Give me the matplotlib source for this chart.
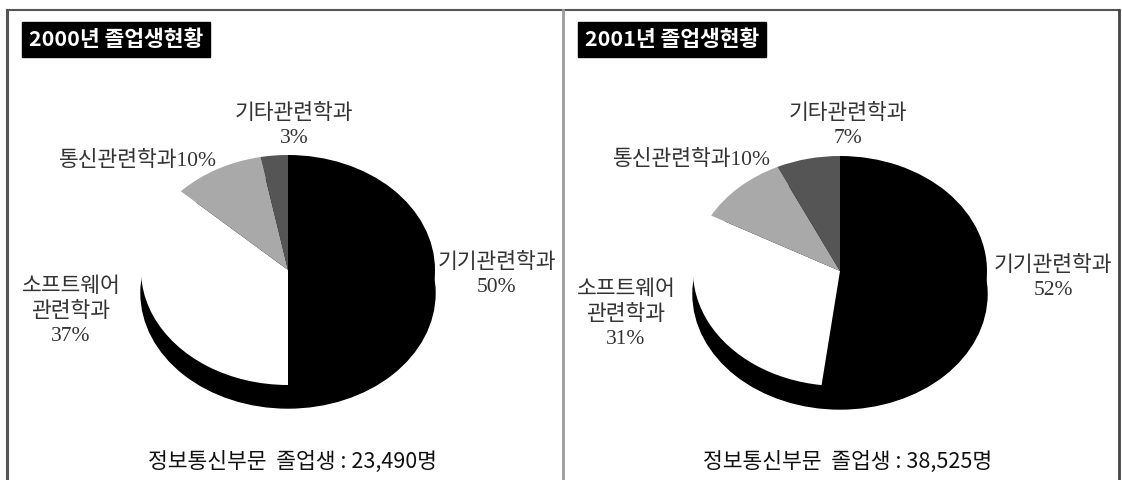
import matplotlib
matplotlib.use("Agg")
import matplotlib.pyplot as plt
from matplotlib.patches import Ellipse, Rectangle
from matplotlib.lines import Line2D

plt.rcParams['font.family'] = ['Noto Sans CJK KR', 'DejaVu Sans']

# ---- data ----
years = ["2000", "2001"]
categories = ["기기관련학과", "소프트웨어 관련학과", "통신관련학과", "기타관련학과"]
share_2000 = [50, 37, 10, 3]
share_2001 = [52, 31, 10, 7]
graduates = ["23,490", "38,525"]

slice_colors = ["#000000", "#ffffff", "#a9a9a9", "#555555"]
label_font = ['Liberation Serif', 'Noto Sans CJK KR']
label_color = "#333333"

W, H = 1122, 480
fig = plt.figure(figsize=(W / 100, H / 100), dpi=100, facecolor="white")
bg = fig.add_axes([0, 0, 1, 1])
bg.set_xlim(0, W)
bg.set_ylim(H, 0)
bg.axis("off")

# ---- frame ----
bg.add_line(Line2D([7, 1119], [10, 10], color="#555555", lw=1.5))
bg.add_line(Line2D([7, 7], [10, H], color="#555555", lw=2.2))
bg.add_line(Line2D([563, 563], [10, H], color="#9a9a9a", lw=2.0))
bg.add_line(Line2D([1119, 1119], [10, H], color="#444444", lw=2.0))


def label_texts(shares):
    return [
        f"{categories[0]}\n{shares[0]}%",
        "소프트웨어\n관련학과\n" + f"{shares[1]}%",
        f"{categories[2]}{shares[2]}%",
        f"{categories[3]}\n{shares[3]}%",
    ]


panels = [
    dict(x0=7, cx=288, cy=270, shares=share_2000,
         label_pos=[(497, 275), (71, 312), (138, 161), (294, 126)]),
    dict(x0=563, cx=840, cy=271, shares=share_2001,
         label_pos=[(1053, 278), (626, 315), (692, 160), (848, 126)]),
]

rx, ry = 147, 115
for i, p in enumerate(panels):
    # title box
    bx = p["x0"] + 15
    bg.add_patch(Rectangle((bx, 22), 188, 35, color="black", zorder=3))
    bg.text(bx + 94, 40, f"{years[i]}년 졸업생현황", color="white",
            fontsize=15.5, fontweight="bold", ha="center", va="center", zorder=4)

    # pie (squashed into an ellipse) with a drop shadow underneath
    ax = fig.add_axes([(p["cx"] - 1.1 * rx) / W, (H - p["cy"] - 1.4 * ry) / H,
                       2.2 * rx / W, 2.5 * ry / H])
    ax.add_patch(Ellipse((0, -0.2), 2, 2, color="black", zorder=0))
    ax.pie(p["shares"], colors=slice_colors, startangle=90, counterclock=False,
           radius=1, wedgeprops=dict(linewidth=0))
    ax.set_aspect("auto")
    ax.set_xlim(-1.1, 1.1)
    ax.set_ylim(-1.4, 1.1)
    ax.axis("off")

    for txt, (lx, ly) in zip(label_texts(p["shares"]), p["label_pos"]):
        bg.text(lx, ly, txt, family=label_font, fontsize=15.5, color=label_color,
                ha="center", va="center", linespacing=1.35)

    # caption
    bg.text(p["x0"] + 285, 462, f"정보통신부문  졸업생 : {graduates[i]}명",
            fontsize=15.5, color="#111111", ha="center", va="center")

fig.savefig("out.png", dpi=100, facecolor="white")
